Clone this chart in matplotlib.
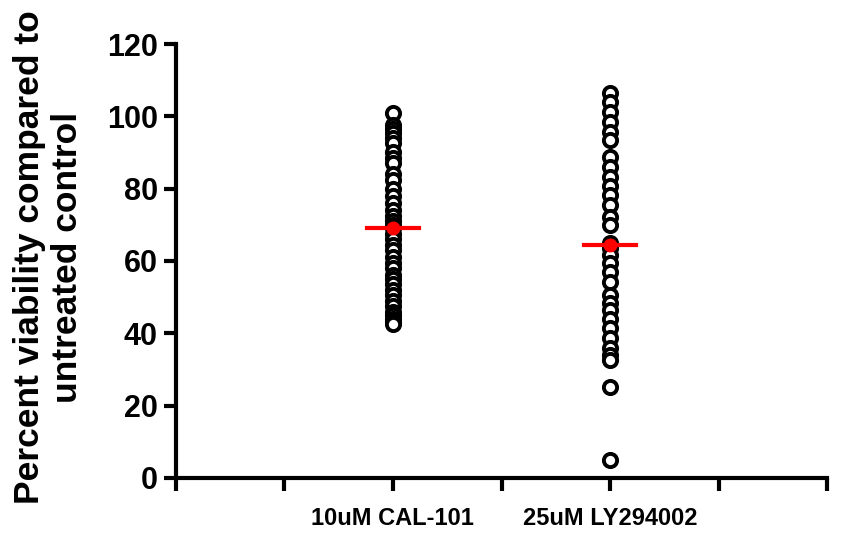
import numpy as np
import matplotlib.pyplot as plt

plt.rcParams['font.family'] = ['Liberation Sans', 'DejaVu Sans']
plt.rcParams['font.weight'] = 'bold'

groups = ['10uM CAL-101', '25uM LY294002']
group_pos = [2, 4]

cal101 = [101, 97.5, 96.5, 95.5, 94, 92.5, 90, 88.5, 87, 84, 82.5, 80, 78, 76,
          74, 72.5, 71, 70, 69, 67.5, 66, 64.5, 63, 61, 59.5, 58, 56, 55, 53.5,
          52, 50.5, 49, 47.5, 46, 45, 44, 43, 42.5]
ly294002 = [106.5, 104, 101.3, 98.3, 95.8, 93.5, 88.8, 86.1, 83.3, 80.6, 78.2,
            75.5, 72.2, 69.9, 64.9, 63.5, 61.7, 59.4, 57, 54.3, 50.6, 48.5,
            46.5, 44, 41.4, 38.6, 35.9, 34, 32.6, 25.2, 5]
data = [cal101, ly294002]

yticks = [0, 20, 40, 60, 80, 100, 120]

fig = plt.figure(figsize=(8.45, 5.40), dpi=100)
ax = fig.add_axes([0.208, 0.115, 0.771, 0.8035])

for pos, vals in zip(group_pos, data):
    ax.plot([pos] * len(vals), vals, 'o', mfc='white', mec='black',
            ms=9.5, mew=2.8, zorder=3)
    m = np.mean(vals)
    ax.plot([pos - 0.24, pos + 0.24], [m, m], color='red', lw=3, zorder=4)
    ax.plot(pos, m, 'o', color='red', ms=9, zorder=5)

ax.set_xlim(0, 6)
ax.set_ylim(0, 120)
ax.set_xticks(range(7))
ax.set_xticklabels(['', '', groups[0], '', groups[1], '', ''], fontsize=17,
                   fontweight='bold')
ax.set_yticks(yticks)
ax.set_yticklabels([str(t) for t in yticks], fontsize=22, fontweight='bold')
ax.tick_params(axis='both', direction='out', length=9, width=3, pad=4)
ax.tick_params(axis='x', pad=12)

for s in ['top', 'right']:
    ax.spines[s].set_visible(False)
for s in ['left', 'bottom']:
    ax.spines[s].set_linewidth(3)

ax.set_ylabel('Percent viability compared to\nuntreated control', fontsize=25.5,
              fontweight='bold', linespacing=1.2)
ax.yaxis.set_label_coords(-0.141, 0.509)

fig.savefig('out.png', dpi=100)
